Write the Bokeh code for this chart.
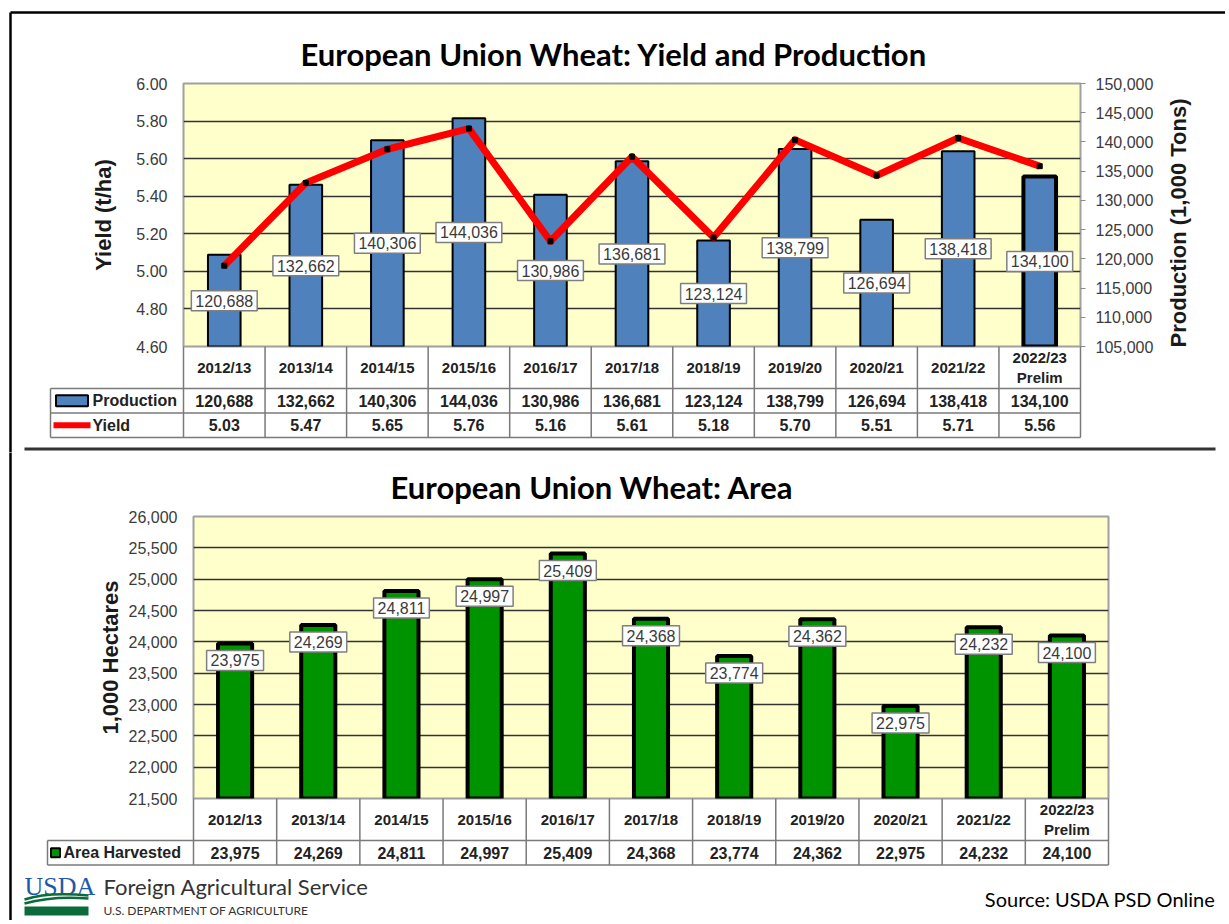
from bokeh.plotting import figure
from bokeh.models import (Range1d, FactorRange, LinearAxis, FixedTicker, NumeralTickFormatter,
                          ColumnDataSource)
from bokeh.layouts import column
from bokeh.embed import file_html
from bokeh.resources import INLINE
from bokeh.core.properties import value
import math

# ---------------- data ----------------
years = ["2012/13", "2013/14", "2014/15", "2015/16", "2016/17", "2017/18",
         "2018/19", "2019/20", "2020/21", "2021/22", "2022/23"]
header_labels = ["2012/13", "2013/14", "2014/15", "2015/16", "2016/17", "2017/18",
                 "2018/19", "2019/20", "2020/21", "2021/22", "2022/23\nPrelim"]
production = [120688, 132662, 140306, 144036, 130986, 136681, 123124, 138799, 126694, 138418, 134100]
yield_tha = [5.03, 5.47, 5.65, 5.76, 5.16, 5.61, 5.18, 5.70, 5.51, 5.71, 5.56]
area = [23975, 24269, 24811, 24997, 25409, 24368, 23774, 24362, 22975, 24232, 24100]
yield_ticks = [4.60, 4.80, 5.00, 5.20, 5.40, 5.60, 5.80, 6.00]
production_ticks = [105000, 110000, 115000, 120000, 125000, 130000, 135000, 140000, 145000, 150000]
area_ticks = [21500, 22000, 22500, 23000, 23500, 24000, 24500, 25000, 25500, 26000]

title1 = "European Union Wheat: Yield and Production"
title2 = "European Union Wheat: Area"

# ---------------- style ----------------
AX_FONT = "Liberation Sans"
TITLE_FONT = "Lato"
TICK_COLOR = "#3b3b3b"
TABLE_LINE = "#7a7a7a"
TABLE_TEXT = "#222222"
PLOT_BG = "#FFFFCC"
BLUE = "#4F81BD"
GREEN = "#009300"
RED = "#FF0000"

PAGE_W = 1225
HDR = 42      # header row height (px)
ROW = 24.5    # data row height (px)
n = len(years)


def style_common(p, title_offset, title_standoff):
    p.frame_align = False
    p.background_fill_color = PLOT_BG
    p.border_fill_color = "white"
    p.outline_line_color = "#a0a0a0"
    p.outline_line_width = 2
    p.xgrid.visible = False
    p.ygrid.grid_line_color = "#333333"
    p.ygrid.grid_line_width = 1.3
    p.title.text_font = TITLE_FONT
    p.title.text_font_size = "31px"
    p.title.text_font_style = "bold"
    p.title.text_color = "black"
    p.title.align = "left"
    p.title.offset = title_offset
    p.title.standoff = title_standoff


def style_axis(ax, standoff, label, label_standoff):
    ax.major_label_text_font = AX_FONT
    ax.major_label_text_font_size = "16px"
    ax.major_label_text_color = TICK_COLOR
    ax.axis_line_color = None
    ax.major_tick_line_color = None
    ax.minor_tick_line_color = None
    ax.major_label_standoff = standoff
    if label:
        ax.axis_label = label
        ax.axis_label_text_font = AX_FONT
        ax.axis_label_text_font_size = "22px"
        ax.axis_label_text_font_style = "bold"
        ax.axis_label_text_color = "#1a1a1a"
        ax.axis_label_standoff = label_standoff


def tbl_text(p, x, y, text, **kw):
    opts = dict(text_font=value(AX_FONT), text_font_size="16px", text_font_style="bold",
                text_color=TABLE_TEXT, text_align="center", text_baseline="middle",
                level="overlay")
    opts.update(kw)
    return p.text(x=x, y=y, text=text, **opts)


# ======================= TOP CHART =======================
F1L, F1T, F1W, F1H, H1 = 183, 83, 897, 263, 452
u1 = n / F1W            # category units per screen pixel (for things outside the frame)
p1 = figure(width=PAGE_W, height=H1,
            min_border_left=F1L, min_border_right=PAGE_W - F1L - F1W,
            min_border_top=F1T, min_border_bottom=H1 - F1T - F1H,
            x_range=FactorRange(*years), y_range=Range1d(yield_ticks[0], yield_ticks[-1]),
            x_axis_location=None, title=title1,
            output_backend="svg", toolbar_location=None)
p1.extra_y_ranges = {"prod": Range1d(production_ticks[0], production_ticks[-1]),
                     "px": Range1d(0, F1H)}
style_common(p1, 300 - F1L, 21)
p1.ygrid.ticker = FixedTicker(ticks=yield_ticks[1:-1])

ya = p1.yaxis[0]
ya.ticker = FixedTicker(ticks=yield_ticks)
ya.formatter = NumeralTickFormatter(format="0.00")
style_axis(ya, 10, "Yield (t/ha)", 17)

ra = LinearAxis(y_range_name="prod", ticker=FixedTicker(ticks=production_ticks),
                formatter=NumeralTickFormatter(format="0,0"))
style_axis(ra, 10, None, 0)
ra.major_tick_line_color = "#8c8c8c"
ra.major_tick_out = 5
ra.major_tick_in = 0
p1.add_layout(ra, "right")
# right axis title, reading bottom-to-top
p1.text(x=(1178 - F1L) * u1, y=F1H / 2 - 8, text=value("Production (1,000 Tons)"),
        y_range_name="px", angle=math.pi / 2, text_font=value(AX_FONT), text_font_size="22px",
        text_font_style="bold", text_color="#1a1a1a", text_align="center",
        text_baseline="middle", level="overlay")

src1 = ColumnDataSource(dict(
    x=years, top=production,
    mid=[(production_ticks[0] + v) / 2 for v in production],
    lab=[f"{v:,}" for v in production],
    lw=[4 if "Prelim" in h else 2 for h in header_labels],
))
p1.vbar(x="x", top="top", bottom=production_ticks[0], width=0.4, source=src1,
        y_range_name="prod", fill_color=BLUE, line_color="black", line_width="lw")
p1.text(x="x", y="mid", text="lab", source=src1, y_range_name="prod",
        text_font=value(AX_FONT), text_font_size="16px", text_color="#3a3a3a",
        text_align="center", text_baseline="middle",
        background_fill_color="white", border_line_color="#7f7f7f", border_line_width=1.5,
        padding=4)
p1.line(x=years, y=yield_tha, line_color=RED, line_width=7, line_join="round")
p1.scatter(x=years, y=yield_tha, marker="square", size=5, fill_color="black", line_color="black")

# ---- data table under top chart ----
bounds = list(range(n + 1))
left1 = -133 * u1
p1.segment(x0=bounds, y0=0, x1=bounds, y1=-(HDR + 2 * ROW), y_range_name="px",
           line_color=TABLE_LINE, line_width=1.5, level="overlay")
p1.segment(x0=[left1] * 3, y0=[-HDR, -HDR - ROW, -HDR - 2 * ROW],
           x1=[n] * 3, y1=[-HDR, -HDR - ROW, -HDR - 2 * ROW],
           y_range_name="px", line_color=TABLE_LINE, line_width=1.5, level="overlay")
p1.segment(x0=left1, y0=-HDR, x1=left1, y1=-HDR - 2 * ROW,
           y_range_name="px", line_color=TABLE_LINE, line_width=1.5, level="overlay")
tbl_text(p1, years, -HDR / 2, header_labels, y_range_name="px", text_font_size="15px")
tbl_text(p1, years, -HDR - ROW / 2, [f"{v:,}" for v in production], y_range_name="px")
tbl_text(p1, years, -HDR - 1.5 * ROW, [f"{v:.2f}" for v in yield_tha], y_range_name="px")
# row labels with legend keys
tbl_text(p1, -91 * u1, -HDR - ROW / 2, value("Production"), y_range_name="px", text_align="left")
tbl_text(p1, -91 * u1, -HDR - 1.5 * ROW, value("Yield"), y_range_name="px", text_align="left")
p1.rect(x=-111.5 * u1, y=-HDR - ROW / 2, width=32 * u1, height=11, y_range_name="px",
        fill_color=BLUE, line_color="black", line_width=2, level="overlay")
p1.segment(x0=-130 * u1, y0=-HDR - 1.5 * ROW, x1=-93 * u1, y1=-HDR - 1.5 * ROW,
           y_range_name="px", line_color=RED, line_width=6, level="overlay")
p1.scatter(x=-111.5 * u1, y=-HDR - 1.5 * ROW, marker="square", size=5, color="black",
           y_range_name="px", level="overlay")
# separator and outer frame
p1.segment(x0=-159 * u1, y0=-102.5, x1=1032 * u1, y1=-102.5, y_range_name="px",
           line_color="#333333", line_width=3, level="overlay")
p1.segment(x0=[-173 * u1, -173 * u1], y0=[334, 334], x1=[-173 * u1, (PAGE_W - F1L) * u1],
           y1=[-110, 334], y_range_name="px", line_color="black", line_width=2.5, level="overlay")

# ======================= BOTTOM CHART =======================
F2L, F2T, F2W, F2H, H2 = 193, 64, 915, 282, 468
u2 = n / F2W
p2 = figure(width=PAGE_W, height=H2,
            min_border_left=F2L, min_border_right=PAGE_W - F2L - F2W,
            min_border_top=F2T, min_border_bottom=H2 - F2T - F2H,
            x_range=FactorRange(*years), y_range=Range1d(area_ticks[0], area_ticks[-1]),
            x_axis_location=None, title=title2,
            output_backend="svg", toolbar_location=None)
p2.extra_y_ranges = {"px": Range1d(0, F2H)}
style_common(p2, 390 - F2L, 22)
p2.ygrid.ticker = FixedTicker(ticks=area_ticks[1:-1])

ya2 = p2.yaxis[0]
ya2.ticker = FixedTicker(ticks=area_ticks)
ya2.formatter = NumeralTickFormatter(format="0,0")
style_axis(ya2, 10, "1,000 Hectares", 3)

src2 = ColumnDataSource(dict(x=years, top=area, lab=[f"{v:,}" for v in area]))
p2.vbar(x="x", top="top", bottom=area_ticks[0], width=0.41, source=src2,
        fill_color=GREEN, line_color="black", line_width=4)
p2.text(x="x", y="top", text="lab", source=src2, y_offset=17,
        text_font=value(AX_FONT), text_font_size="16px", text_color="#3a3a3a",
        text_align="center", text_baseline="middle",
        background_fill_color="white", border_line_color="#7f7f7f", border_line_width=1.5,
        padding=4)

left2 = -146 * u2
p2.segment(x0=bounds, y0=0, x1=bounds, y1=-(HDR + ROW), y_range_name="px",
           line_color=TABLE_LINE, line_width=1.5, level="overlay")
p2.segment(x0=[left2] * 2, y0=[-HDR, -HDR - ROW], x1=[n] * 2, y1=[-HDR, -HDR - ROW],
           y_range_name="px", line_color=TABLE_LINE, line_width=1.5, level="overlay")
p2.segment(x0=left2, y0=-HDR, x1=left2, y1=-HDR - ROW,
           y_range_name="px", line_color=TABLE_LINE, line_width=1.5, level="overlay")
tbl_text(p2, years, -HDR / 2, header_labels, y_range_name="px", text_font_size="15px")
tbl_text(p2, years, -HDR - ROW / 2, [f"{v:,}" for v in area], y_range_name="px")
tbl_text(p2, -130 * u2, -HDR - ROW / 2, value("Area Harvested"), y_range_name="px",
         text_align="left")
p2.rect(x=-138 * u2, y=-HDR - ROW / 2, width=9 * u2, height=9, y_range_name="px",
        fill_color=GREEN, line_color="black", line_width=2, level="overlay")

# footer
p2.text(x=-169 * u2, y=-88, text=value("USDA"), y_range_name="px",
        text_font=value("Liberation Serif"), text_font_size="26px", text_color="#1F5AA6",
        text_align="left", text_baseline="middle", level="overlay")
p2.quad(left=-169 * u2, right=-105 * u2, top=-108, bottom=-117, y_range_name="px",
        fill_color="#0C6B3A", line_color=None, level="overlay")
p2.quadratic(x0=[-169 * u2, -169 * u2], y0=[-105, -101], x1=[-105 * u2, -105 * u2], y1=[-100, -97],
             cx=[-140 * u2, -145 * u2], cy=[-97, -93], y_range_name="px",
             line_color="#0C6B3A", line_width=2.5, level="overlay")
p2.text(x=-90 * u2, y=-88, text=value("Foreign Agricultural Service"), y_range_name="px",
        text_font=value("Lato"), text_font_size="22px", text_color="#333333",
        text_align="left", text_baseline="middle", level="overlay")
p2.text(x=-90 * u2, y=-112, text=value("U.S. DEPARTMENT OF AGRICULTURE"), y_range_name="px",
        text_font=value("Lato"), text_font_size="12px", text_color="#333333",
        text_align="left", text_baseline="middle", level="overlay")
p2.text(x=1022 * u2, y=-100, text=value("Source: USDA PSD Online"), y_range_name="px",
        text_font=value("Lato"), text_font_size="20px", text_color="black",
        text_align="right", text_baseline="middle", level="overlay")
p2.segment(x0=-183 * u2, y0=F2H + F2T, x1=-183 * u2, y1=-(H2 - F2T - F2H), y_range_name="px",
           line_color="black", line_width=2.5, level="overlay")

layout = column(p1, p2, spacing=0)
open("out.html", "w").write(file_html(layout, INLINE))
